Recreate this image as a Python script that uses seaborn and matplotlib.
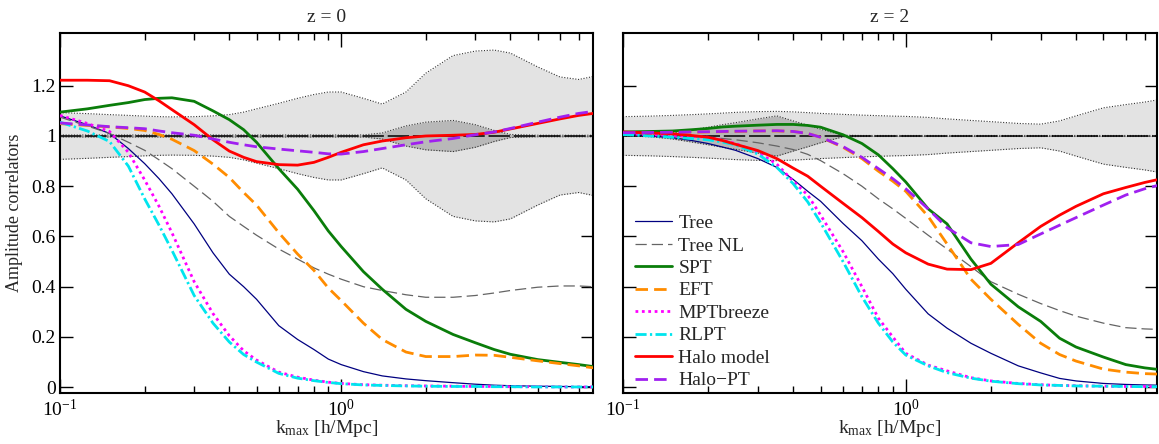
import numpy as np
import matplotlib
matplotlib.use("Agg")
import matplotlib.pyplot as plt
import seaborn as sns
from matplotlib.ticker import LogLocator, NullFormatter, FixedLocator, FuncFormatter

# k grid (h/Mpc), shared by both panels
k = [0.1, 0.125, 0.15, 0.175, 0.2, 0.225, 0.25, 0.3, 0.35, 0.4, 0.45, 0.5, 0.6, 0.7,
     0.8, 0.9, 1.0, 1.2, 1.4, 1.7, 2.0, 2.5, 3.0, 3.5, 4.0, 5.0, 6.0, 7.0, 7.9]

# ---- z = 0 ----
z0_tree = [1.08, 1.045, 1.01, 0.95, 0.89, 0.83, 0.77, 0.65, 0.535, 0.45, 0.40, 0.35, 0.245, 0.19,
           0.15, 0.112, 0.09, 0.062, 0.045, 0.033, 0.026, 0.018, 0.012, 0.008, 0.006, 0.004, 0.003, 0.002, 0.002]
z0_treenl = [1.075, 1.04, 1.01, 0.975, 0.943, 0.905, 0.87, 0.80, 0.74, 0.68, 0.64, 0.605, 0.55, 0.51,
             0.475, 0.45, 0.43, 0.40, 0.385, 0.368, 0.358, 0.358, 0.365, 0.375, 0.385, 0.398, 0.403, 0.403, 0.40]
z0_spt = [1.095, 1.108, 1.122, 1.133, 1.145, 1.15, 1.152, 1.138, 1.10, 1.065, 1.025, 0.975, 0.87, 0.788,
          0.703, 0.622, 0.56, 0.46, 0.39, 0.31, 0.262, 0.21, 0.177, 0.15, 0.131, 0.11, 0.099, 0.09, 0.082]
z0_eft = [1.049, 1.042, 1.036, 1.03, 1.022, 1.006, 0.987, 0.942, 0.888, 0.835, 0.775, 0.725, 0.615, 0.53,
          0.465, 0.395, 0.345, 0.255, 0.19, 0.14, 0.122, 0.122, 0.128, 0.127, 0.119, 0.105, 0.094, 0.085, 0.077]
z0_mpt = [1.082, 1.05, 1.018, 0.935, 0.825, 0.72, 0.615, 0.42, 0.293, 0.205, 0.145, 0.108, 0.06, 0.04,
          0.028, 0.02, 0.015, 0.01, 0.008, 0.006, 0.005, 0.004, 0.003, 0.003, 0.002, 0.002, 0.001, 0.001, 0.001]
z0_rlpt = [1.055, 1.02, 0.978, 0.88, 0.75, 0.645, 0.545, 0.365, 0.255, 0.18, 0.13, 0.10, 0.055, 0.036,
           0.026, 0.019, 0.014, 0.009, 0.007, 0.005, 0.004, 0.003, 0.003, 0.002, 0.002, 0.001, 0.001, 0.001, 0.001]
z0_halo = [1.222, 1.222, 1.22, 1.20, 1.175, 1.14, 1.105, 1.045, 0.985, 0.94, 0.915, 0.898, 0.886, 0.884,
           0.895, 0.915, 0.935, 0.965, 0.98, 0.993, 1.0, 1.003, 1.006, 1.015, 1.028, 1.05, 1.068, 1.082, 1.09]
z0_halopt = [1.052, 1.044, 1.037, 1.033, 1.029, 1.02, 1.013, 1.003, 0.988, 0.975, 0.965, 0.957, 0.948, 0.941,
             0.935, 0.929, 0.928, 0.938, 0.95, 0.965, 0.977, 0.99, 1.005, 1.016, 1.03, 1.055, 1.075, 1.09, 1.098]
z0_band_outer = [0.093, 0.089, 0.085, 0.082, 0.079, 0.077, 0.076, 0.077, 0.08, 0.085, 0.095, 0.108, 0.13, 0.15,
                 0.165, 0.175, 0.175, 0.15, 0.127, 0.175, 0.25, 0.32, 0.338, 0.342, 0.33, 0.275, 0.235, 0.225, 0.237]
z0_band_inner = [0.004, 0.004, 0.004, 0.004, 0.004, 0.004, 0.004, 0.004, 0.004, 0.004, 0.004, 0.004, 0.004, 0.004,
                 0.004, 0.004, 0.004, 0.004, 0.012, 0.04, 0.055, 0.062, 0.045, 0.022, 0.006, 0.003, 0.003, 0.003, 0.003]

# ---- z = 2 ----
z2_tree = [1.009, 1.0, 0.993, 0.982, 0.97, 0.956, 0.943, 0.91, 0.875, 0.827, 0.78, 0.74, 0.652, 0.583,
           0.51, 0.452, 0.39, 0.292, 0.235, 0.175, 0.135, 0.085, 0.057, 0.035, 0.025, 0.015, 0.011, 0.009, 0.008]
z2_treenl = [1.009, 1.005, 1.0, 0.997, 0.994, 0.99, 0.985, 0.973, 0.96, 0.946, 0.927, 0.902, 0.85, 0.80,
             0.75, 0.71, 0.672, 0.605, 0.55, 0.48, 0.42, 0.37, 0.333, 0.305, 0.283, 0.255, 0.237, 0.232, 0.23]
z2_spt = [1.016, 1.018, 1.02, 1.025, 1.03, 1.036, 1.039, 1.043, 1.046, 1.046, 1.042, 1.035, 1.005, 0.97,
          0.925, 0.87, 0.817, 0.71, 0.65, 0.51, 0.41, 0.32, 0.262, 0.195, 0.16, 0.12, 0.09, 0.077, 0.07]
z2_eft = [1.012, 1.013, 1.014, 1.015, 1.016, 1.017, 1.018, 1.02, 1.02, 1.018, 1.01, 0.995, 0.955, 0.91,
          0.86, 0.82, 0.78, 0.68, 0.57, 0.43, 0.35, 0.25, 0.175, 0.13, 0.104, 0.072, 0.06, 0.054, 0.052]
z2_mpt = [1.009, 1.005, 1.002, 0.999, 0.995, 0.983, 0.97, 0.935, 0.888, 0.82, 0.765, 0.685, 0.54, 0.40,
          0.275, 0.20, 0.135, 0.088, 0.065, 0.038, 0.025, 0.015, 0.01, 0.007, 0.006, 0.004, 0.003, 0.003, 0.002]
z2_rlpt = [1.006, 1.0, 0.995, 0.99, 0.985, 0.976, 0.965, 0.928, 0.875, 0.81, 0.738, 0.655, 0.50, 0.36,
           0.255, 0.18, 0.128, 0.085, 0.058, 0.036, 0.024, 0.014, 0.009, 0.007, 0.005, 0.004, 0.003, 0.002, 0.002]
z2_halo = [1.016, 1.012, 1.009, 1.002, 0.995, 0.982, 0.967, 0.942, 0.91, 0.872, 0.84, 0.80, 0.732, 0.675,
           0.62, 0.57, 0.535, 0.49, 0.47, 0.468, 0.493, 0.575, 0.64, 0.685, 0.72, 0.77, 0.795, 0.815, 0.828]
z2_halopt = [1.013, 1.014, 1.015, 1.016, 1.017, 1.018, 1.019, 1.02, 1.021, 1.018, 1.01, 0.995, 0.958, 0.915,
             0.87, 0.83, 0.79, 0.71, 0.635, 0.575, 0.56, 0.568, 0.61, 0.645, 0.675, 0.725, 0.765, 0.79, 0.805]
z2_band_outer = [0.077, 0.079, 0.082, 0.085, 0.088, 0.091, 0.094, 0.097, 0.098, 0.096, 0.093, 0.09, 0.086, 0.083,
                 0.081, 0.079, 0.078, 0.074, 0.068, 0.062, 0.057, 0.05, 0.047, 0.06, 0.08, 0.112, 0.125, 0.135, 0.145]
z2_band_inner = [0.0, 0.003, 0.012, 0.024, 0.035, 0.045, 0.053, 0.068, 0.08, 0.06, 0.043, 0.027, 0.003, 0.002,
                 0.002, 0.002, 0.002, 0.002, 0.002, 0.002, 0.002, 0.002, 0.002, 0.002, 0.002, 0.002, 0.002, 0.002, 0.002]

labels = ["Tree", "Tree NL", "SPT", "EFT", "MPTbreeze", "RLPT", "Halo model", "Halo\u2212PT"]
colors = ["#000080", "#646464", "#0a7d0a", "#ff8c00", "#ff00ff", "#00e5ee", "#ff0000", "#a020f0"]
widths = [0.9, 0.9, 2.0, 2.0, 2.0, 2.0, 2.0, 2.0]
styles = ["-", (0, (9, 4)), "-", (0, (4.5, 2.2)), (0, (1, 1.3)), (0, (4, 1.2, 0.8, 1.2)), "-", (0, (4.5, 2.2))]

panels = [
    ("z = 0", [z0_tree, z0_treenl, z0_spt, z0_eft, z0_mpt, z0_rlpt, z0_halo, z0_halopt],
     z0_band_outer, z0_band_inner, 7.87),
    ("z = 2", [z2_tree, z2_treenl, z2_spt, z2_eft, z2_mpt, z2_rlpt, z2_halo, z2_halopt],
     z2_band_outer, z2_band_inner, 7.73),
]

sns.set_theme(style="ticks")
plt.rcParams["font.family"] = ["Liberation Serif", "DejaVu Serif"]
plt.rcParams["mathtext.fontset"] = "custom"
plt.rcParams["mathtext.rm"] = "Liberation Serif"
plt.rcParams["mathtext.it"] = "Liberation Serif:italic"

fig = plt.figure(figsize=(11.59, 4.44), dpi=100)
axes = [fig.add_axes([0.0518, 0.1149, 0.4599, 0.8108]),
        fig.add_axes([0.5375, 0.1149, 0.4607, 0.8108])]

kk = np.array(k)
for i, (ax, (title, series, band_o, band_i, kmax)) in enumerate(zip(axes, panels)):
    bo = np.array(band_o)
    bi = np.array(band_i)
    ax.fill_between(kk, 1 - bo, 1 + bo, color="#e3e3e3", lw=0, zorder=1)
    ax.fill_between(kk, 1 - bi, 1 + bi, color="#b8b8b8", lw=0, zorder=1.5)
    for edge in (1 - bo, 1 + bo, 1 - bi, 1 + bi):
        ax.plot(kk, edge, color="#333333", lw=0.8, ls=(0, (1, 1.5)), zorder=2)
    ax.axhline(1.0, color="black", lw=1.1, ls=(0, (14, 2.5)), zorder=2.5)

    for vals, lab, c, w, s in zip(series, labels, colors, widths, styles):
        sns.lineplot(x=k, y=vals, ax=ax, color=c, linewidth=w, linestyle=s,
                     label=lab, zorder=3)

    ax.set_xscale("log")
    ax.set_xlim(0.1, kmax)
    ax.set_ylim(-0.023, 1.41)
    ax.xaxis.set_major_locator(FixedLocator([0.1, 1.0]))
    ax.xaxis.set_minor_locator(LogLocator(base=10, subs=np.arange(2, 10)))
    ax.xaxis.set_minor_formatter(NullFormatter())
    ax.set_yticks([0, 0.2, 0.4, 0.6, 0.8, 1.0, 1.2])
    ax.yaxis.set_major_formatter(FuncFormatter(lambda v, p: "%g" % round(v, 2)))
    ax.tick_params(which="both", direction="in", top=True, right=True, width=1.0,
                   colors="black", labelsize=14)
    ax.tick_params(axis="x", which="major", length=10, pad=4)
    ax.tick_params(axis="x", which="minor", length=5)
    ax.tick_params(axis="y", which="major", length=9, pad=3)
    for sp in ax.spines.values():
        sp.set_linewidth(1.5)
        sp.set_color("black")
    ax.set_title(title, fontsize=14, pad=8)
    ax.set_xlabel(r"$\mathregular{k_{max}}$ [h/Mpc]", fontsize=14, labelpad=-1)
    if i == 0:
        ax.set_ylabel("Amplitude correlators", fontsize=13, labelpad=6)
        ax.get_legend().remove()
    else:
        ax.set_ylabel("")
        ax.tick_params(axis="y", labelleft=False)
        ax.legend(loc="lower left", bbox_to_anchor=(0.022, 0.01), frameon=False,
                  fontsize=14, handlelength=1.9, handletextpad=0.35,
                  labelspacing=0.25, borderpad=0, borderaxespad=0)

fig.savefig("out.png", dpi=100)
